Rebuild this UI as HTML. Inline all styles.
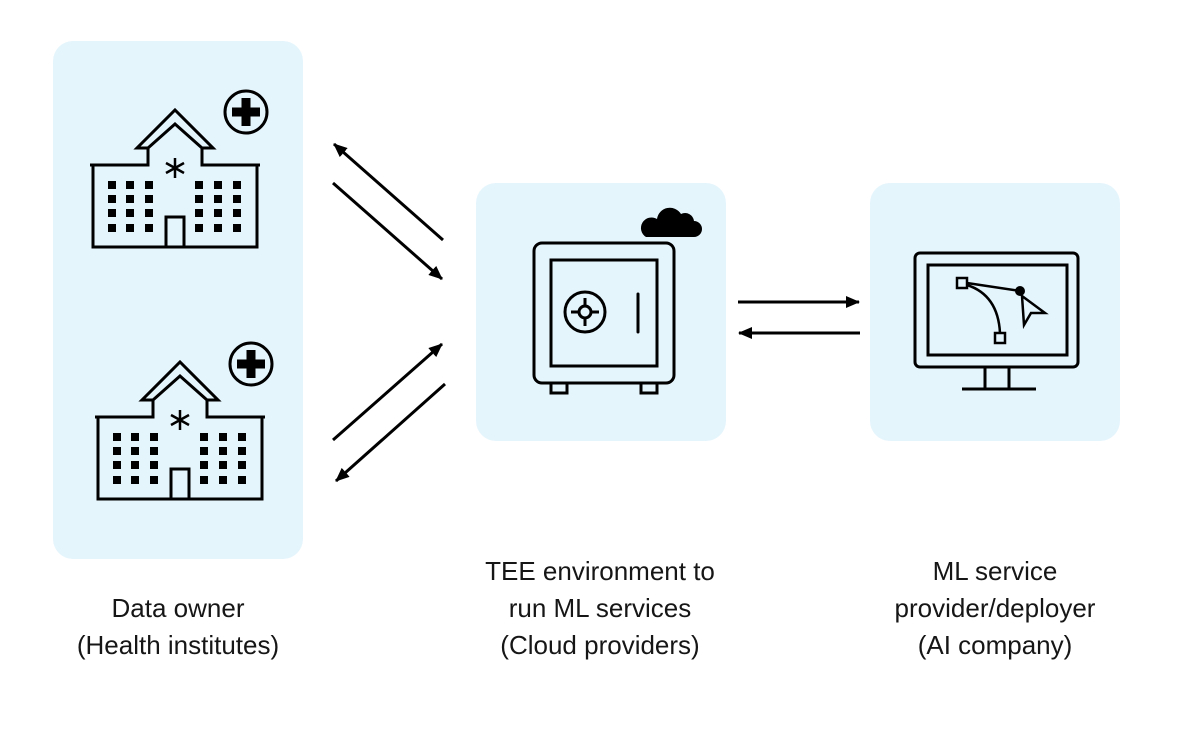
<!DOCTYPE html>
<html><head><style>
body{margin:0;background:#fff;}
svg{display:block}
text{font-family:"Liberation Sans",sans-serif;font-size:26px;fill:#161616;text-anchor:middle}
</style></head><body>
<svg width="1180" height="730" viewBox="0 0 1180 730" xmlns="http://www.w3.org/2000/svg">
<defs>
<marker id="ah" markerWidth="14" markerHeight="12" refX="13" refY="6" orient="auto" markerUnits="userSpaceOnUse">
<path d="M0,0 L14,6 L0,12 Z" fill="#000"/></marker>
<g id="hosp" fill="none" stroke="#000" stroke-width="3">
<path d="M90,165 H148 V148 L137,148 L175,110 L213,148 L202,148 V165 H260"/>
<path d="M148,148 L175,124 L202,148"/>
<path d="M93,165 V247 H257 V165"/>
<rect x="166" y="217" width="18" height="30"/>
<path d="M175,158 V178 M166,163 L184,173 M184,163 L166,173" stroke-width="2.5"/>
<circle cx="246" cy="112" r="21"/>
<path d="M246,98 V126 M232,112 H260" stroke-width="9"/>
<g fill="#000" stroke="none">
<rect x="108" y="181" width="8" height="8"/><rect x="126" y="181" width="8" height="8"/><rect x="145" y="181" width="8" height="8"/>
<rect x="195" y="181" width="8" height="8"/><rect x="214" y="181" width="8" height="8"/><rect x="233" y="181" width="8" height="8"/>
<rect x="108" y="195" width="8" height="8"/><rect x="126" y="195" width="8" height="8"/><rect x="145" y="195" width="8" height="8"/>
<rect x="195" y="195" width="8" height="8"/><rect x="214" y="195" width="8" height="8"/><rect x="233" y="195" width="8" height="8"/>
<rect x="108" y="209" width="8" height="8"/><rect x="126" y="209" width="8" height="8"/><rect x="145" y="209" width="8" height="8"/>
<rect x="195" y="209" width="8" height="8"/><rect x="214" y="209" width="8" height="8"/><rect x="233" y="209" width="8" height="8"/>
<rect x="108" y="224" width="8" height="8"/><rect x="126" y="224" width="8" height="8"/><rect x="145" y="224" width="8" height="8"/>
<rect x="195" y="224" width="8" height="8"/><rect x="214" y="224" width="8" height="8"/><rect x="233" y="224" width="8" height="8"/>
</g>
</g>
</defs>
<rect x="53" y="41" width="250" height="518" rx="20" fill="#e5f5fc"/>
<rect x="476" y="183" width="250" height="258" rx="20" fill="#e5f5fc"/>
<rect x="870" y="183" width="250" height="258" rx="20" fill="#e5f5fc"/>
<use href="#hosp"/>
<use href="#hosp" transform="translate(5,252)"/>
<g fill="none" stroke="#000" stroke-width="3">
<rect x="534" y="243" width="140" height="140" rx="8"/>
<rect x="551" y="260" width="106" height="106"/>
<circle cx="585" cy="312" r="20"/>
<circle cx="585" cy="312" r="6"/>
<path d="M585,298 V306 M585,318 V326 M571,312 H579 M591,312 H599"/>
<path d="M638,294 V332" stroke-linecap="round"/>
<rect x="551" y="383" width="16" height="10"/>
<rect x="641" y="383" width="16" height="10"/>
</g>
<path d="M646,237 H694 A8,8 0 0 0 694,221 A9,9 0 0 0 681,214 A13,13 0 0 0 657,219 A9,9 0 0 0 646,237 Z" fill="#000"/>
<g fill="none" stroke="#000" stroke-width="3">
<rect x="915" y="253" width="163" height="114" rx="5"/>
<rect x="928" y="265" width="139" height="90"/>
<path d="M985,367 V388 M1009,367 V388 M962,389 H1036"/>
<rect x="957" y="278" width="10" height="10" stroke-width="2.5"/>
<rect x="995" y="333" width="10" height="10" stroke-width="2.5"/>
<path d="M967,283 L1020,291" stroke-width="2.5"/>
<path d="M967,285 Q998,295 1000,333" stroke-width="2.5"/>
<path d="M1022,296 L1045,313 L1031,313 L1024,325 Z" stroke-width="2.5"/>
</g>
<circle cx="1020" cy="291" r="5" fill="#000"/>
<g stroke="#000" stroke-width="3" marker-end="url(#ah)">
<line x1="443" y1="240" x2="334" y2="144"/>
<line x1="333" y1="183" x2="442" y2="279"/>
<line x1="333" y1="440" x2="442" y2="344"/>
<line x1="445" y1="384" x2="336" y2="481"/>
<line x1="738" y1="302" x2="859" y2="302"/>
<line x1="860" y1="333" x2="739" y2="333"/>
</g>
<text x="178" y="617">Data owner</text>
<text x="178" y="654">(Health institutes)</text>
<text x="600" y="580">TEE environment to</text>
<text x="600" y="617">run ML services</text>
<text x="600" y="654">(Cloud providers)</text>
<text x="995" y="580">ML service</text>
<text x="995" y="617">provider/deployer</text>
<text x="995" y="654">(AI company)</text>
</svg>
</body></html>
